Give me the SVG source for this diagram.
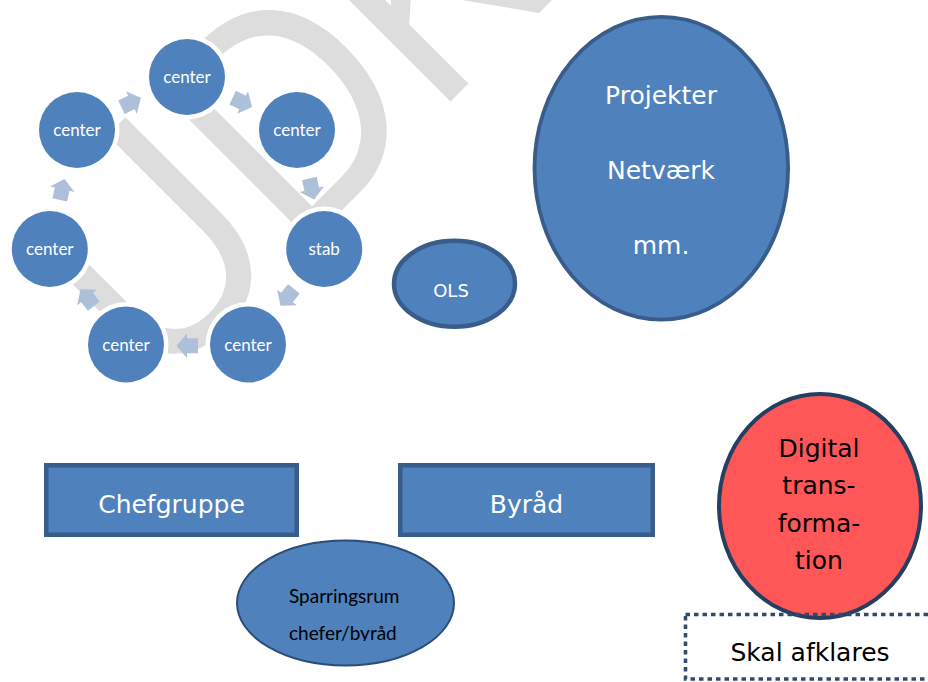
<svg xmlns="http://www.w3.org/2000/svg" xmlns:xlink="http://www.w3.org/1999/xlink" width="928" height="682" viewBox="0 0 928 682">
<style>
.wm{font-family:"Liberation Sans",Arial,sans-serif;font-size:318px;fill:#dddddd}
.ring{fill:#ffffff}
.cyc{fill:#4f81bd}
.ct{font-family:Lato,"Open Sans",sans-serif;font-size:17px;fill:#ffffff;text-anchor:middle}
.big{fill:#4f81bd;stroke:#385d8a}
.vt{font-family:"DejaVu Sans",Verdana,sans-serif;text-anchor:middle}
.arr{fill:#aebfda}
</style>
<defs>
<polygon id="ar" points="-11,-7.5 0,-7.5 0,-12.5 10.5,0 0,12.5 0,7.5 -11,7.5"/>
<clipPath id="spclip"><rect x="230" y="535" width="240" height="106"/></clipPath>
</defs>
<rect width="928" height="682" fill="#ffffff"/>
<text class="wm" x="0" y="0" transform="translate(155.3 396.7) rotate(-45) scale(0.86 1)">UDKAST</text>

<g id="connectors">
<use xlink:href="#ar" class="arr" transform="translate(242.6 102.4) rotate(25.71)"/>
<use xlink:href="#ar" class="arr" transform="translate(311.8 189.2) rotate(77.14)"/>
<use xlink:href="#ar" class="arr" transform="translate(287.0 297.5) rotate(128.57)"/>
<use xlink:href="#ar" class="arr" transform="translate(187 345.7) rotate(180)"/>
<use xlink:href="#ar" class="arr" transform="translate(87.0 297.5) rotate(231.43)"/>
<use xlink:href="#ar" class="arr" transform="translate(62.2 189.2) rotate(282.86)"/>
<use xlink:href="#ar" class="arr" transform="translate(131.4 102.4) rotate(334.29)"/>
</g>

<g id="node-top"><circle class="ring" cx="187" cy="77" r="42.5"/><circle class="cyc" cx="187" cy="77" r="38"/><text class="ct" x="187" y="83">center</text></g>
<g id="node-ur"><circle class="ring" cx="297" cy="130" r="42.5"/><circle class="cyc" cx="297" cy="130" r="38"/><text class="ct" x="297" y="136">center</text></g>
<g id="node-stab"><circle class="ring" cx="324.2" cy="249" r="42.5"/><circle class="cyc" cx="324.2" cy="249" r="38"/><text class="ct" x="324.2" y="255">stab</text></g>
<g id="node-br"><circle class="ring" cx="248" cy="344.5" r="42.5"/><circle class="cyc" cx="248" cy="344.5" r="38"/><text class="ct" x="248" y="350.5">center</text></g>
<g id="node-bl"><circle class="ring" cx="126" cy="344.5" r="42.5"/><circle class="cyc" cx="126" cy="344.5" r="38"/><text class="ct" x="126" y="350.5">center</text></g>
<g id="node-l"><circle class="ring" cx="49.8" cy="249" r="42.5"/><circle class="cyc" cx="49.8" cy="249" r="38"/><text class="ct" x="49.8" y="255">center</text></g>
<g id="node-ul"><circle class="ring" cx="77" cy="130" r="42.5"/><circle class="cyc" cx="77" cy="130" r="38"/><text class="ct" x="77" y="136">center</text></g>

<g id="node-ols"><ellipse class="big" cx="454.5" cy="283.7" rx="60.5" ry="43" stroke-width="4.5"/><text class="vt" x="451" y="297" font-size="18" fill="#ffffff">OLS</text></g>

<g id="node-projekter"><ellipse class="big" cx="661.3" cy="168.3" rx="126.8" ry="151.4" stroke-width="3.8"/>
<text class="vt" font-size="25" fill="#ffffff"><tspan x="661" y="104">Projekter</tspan><tspan x="661" y="179">Netværk</tspan><tspan x="661" y="254">mm.</tspan></text></g>

<g id="node-chefgruppe"><rect class="big" x="46.25" y="465.25" width="250.5" height="69.5" stroke-width="4.5"/><text class="vt" x="171.5" y="513" font-size="25" fill="#ffffff">Chefgruppe</text></g>
<g id="node-byraad"><rect class="big" x="400.25" y="465.25" width="252.5" height="69.5" stroke-width="4.5"/><text class="vt" x="526.5" y="513" font-size="25" fill="#ffffff">Byråd</text></g>

<g id="node-sparring"><ellipse cx="345.5" cy="603" rx="108.5" ry="62.5" fill="#4f81bd" stroke="#2b4d77" stroke-width="2"/>
<g clip-path="url(#spclip)"><text font-family="Lato,'Open Sans',sans-serif" font-size="19" fill="#000000"><tspan x="289" y="603">Sparringsrum</tspan><tspan x="289" y="640">chefer/byråd</tspan></text></g></g>

<g id="node-digital"><ellipse cx="820" cy="506" rx="101" ry="112" fill="#ff5757" stroke="#243f60" stroke-width="4"/>
<text class="vt" font-size="25" fill="#000000"><tspan x="819" y="457">Digital</tspan><tspan x="819" y="494">trans-</tspan><tspan x="819" y="531.5">forma-</tspan><tspan x="819" y="568.5">tion</tspan></text></g>

<g id="node-skal"><rect x="685.5" y="614.5" width="270" height="64.5" fill="none" stroke="#2e4a6e" stroke-width="3.5" stroke-dasharray="4.5 4"/>
<text class="vt" x="810" y="661" font-size="25" fill="#000000">Skal afklares</text></g>
</svg>
